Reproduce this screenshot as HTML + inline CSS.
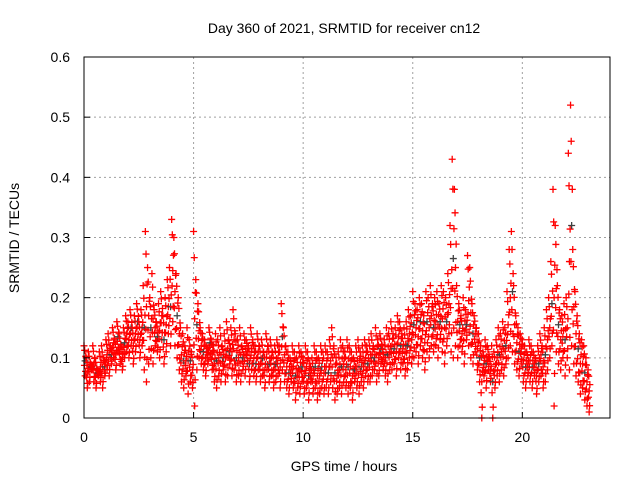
<!DOCTYPE html>
<html><head><meta charset="utf-8"><style>
body{margin:0;background:#fff;}
svg{display:block;font-family:"Liberation Sans",sans-serif;}
</style></head><body>
<svg id="chart" width="640" height="480">
<text x="344" y="33" font-size="14" text-anchor="middle">Day 360 of 2021, SRMTID for receiver cn12</text>
<text transform="translate(19,238) rotate(-90)" font-size="14" text-anchor="middle">SRMTID / TECUs</text>
<text x="344" y="471" font-size="14" text-anchor="middle">GPS time / hours</text>
<g id="grid"></g><g id="marks"></g><g id="axes"></g>
</svg>
<script>
const xTicks=[0,5,10,15,20];
const yTicks=[0,0.1,0.2,0.3,0.4,0.5,0.6];
const yTickLabels=["0","0.1","0.2","0.3","0.4","0.5","0.6"];
const stepHours=0.1;
const srmtidUpper=[.12,.10,.11,.09,.12,.10,.08,.11,.12,.10,
.13,.14,.12,.15,.13,.16,.14,.12,.15,.17,
.16,.18,.15,.17,.19,.16,.18,.22,.31,.25,
.20,.24,.18,.16,.19,.21,.17,.20,.23,.25,
.33,.30,.24,.20,.15,.14,.12,.15,.13,.11,
.31,.23,.19,.15,.14,.13,.12,.15,.13,.12,
.14,.13,.15,.12,.14,.16,.13,.15,.18,.14,
.13,.15,.12,.14,.13,.12,.15,.13,.12,.14,
.12,.13,.11,.14,.12,.13,.11,.12,.13,.12,
.19,.15,.12,.11,.10,.12,.11,.10,.12,.11,
.10,.12,.11,.09,.10,.12,.11,.10,.12,.11,
.12,.11,.13,.15,.12,.10,.11,.13,.12,.11,
.13,.12,.11,.10,.12,.13,.11,.12,.13,.12,
.13,.14,.12,.15,.13,.14,.12,.13,.15,.14,
.16,.14,.15,.17,.16,.14,.15,.16,.18,.17,
.21,.19,.18,.20,.19,.17,.21,.20,.22,.19,
.20,.21,.19,.22,.21,.20,.24,.32,.43,.38,
.22,.19,.17,.20,.18,.27,.25,.19,.17,.15,
.14,.12,.11,.13,.12,.10,.12,.11,.13,.15,
.14,.16,.15,.21,.28,.31,.22,.17,.15,.14,
.13,.12,.11,.13,.12,.11,.10,.12,.14,.12,
.15,.18,.20,.26,.38,.32,.22,.18,.17,.19,
.20,.44,.52,.28,.21,.17,.14,.13,.12,.10,
.08];
const srmtidLower=[.07,.05,.06,.08,.06,.05,.07,.06,.05,.07,
.08,.07,.09,.10,.08,.11,.09,.08,.10,.11,
.10,.12,.09,.11,.13,.10,.12,.08,.06,.09,
.10,.09,.12,.11,.10,.13,.09,.11,.14,.12,
.16,.12,.10,.08,.06,.05,.07,.04,.06,.05,
.02,.08,.10,.09,.08,.07,.09,.10,.08,.06,
.05,.07,.06,.08,.06,.07,.09,.07,.08,.06,
.07,.06,.08,.07,.09,.06,.08,.07,.06,.08,
.06,.07,.05,.08,.06,.07,.05,.06,.07,.05,
.08,.06,.05,.04,.06,.05,.03,.05,.04,.06,
.04,.05,.03,.06,.04,.05,.03,.04,.05,.04,
.05,.04,.06,.05,.03,.04,.05,.04,.06,.05,
.04,.05,.03,.06,.05,.04,.06,.05,.07,.06,
.06,.07,.08,.06,.07,.09,.08,.07,.06,.08,
.08,.09,.07,.10,.08,.09,.07,.08,.10,.09,
.10,.11,.09,.12,.10,.08,.11,.10,.12,.11,
.12,.10,.13,.11,.09,.12,.14,.11,.10,.12,
.10,.12,.11,.09,.13,.12,.10,.09,.11,.08,
.06,.00,.07,.05,.08,.06,.00,.05,.07,.06,
.08,.07,.09,.10,.12,.11,.09,.08,.07,.09,
.06,.05,.07,.06,.05,.07,.04,.06,.07,.05,
.06,.08,.10,.12,.02,.11,.09,.08,.10,.07,
.10,.08,.12,.09,.07,.06,.04,.05,.03,.02,
.01];
const NS="http://www.w3.org/2000/svg";
const L=84,R=610,T=57,B=418;
const xS=h=>L+h/24*(R-L);
const yS=v=>B-v/0.6*(B-T);
function mk(tag,attrs,parent){const e=document.createElementNS(NS,tag);for(const k in attrs)e.setAttribute(k,attrs[k]);parent.appendChild(e);return e;}
const grid=document.getElementById('grid'),axes=document.getElementById('axes'),marks=document.getElementById('marks');
xTicks.forEach(t=>{
 if(t>0){const g=mk('line',{x1:xS(t),x2:xS(t),y1:T,y2:B,stroke:'#a0a0a0','stroke-dasharray':'2,3'},grid);
 
 }
 const tk=mk('line',{x1:xS(t),x2:xS(t),y1:B,y2:B-6,stroke:'#000'},axes);
 
 
 const tx=mk('text',{x:xS(t),y:B+24,'font-size':14,'text-anchor':'middle'},axes);tx.textContent=t;
 
 
});
yTicks.forEach((t,i)=>{
 if(t>0&&t<0.6){const g=mk('line',{x1:L,x2:R,y1:yS(t),y2:yS(t),stroke:'#a0a0a0','stroke-dasharray':'2,3'},grid);
 
 }
 const tk=mk('line',{x1:L,x2:L+6,y1:yS(t),y2:yS(t),stroke:'#000'},axes);
 
 
 const tx=mk('text',{x:L-14,y:yS(t)+5,'font-size':14,'text-anchor':'end'},axes);tx.textContent=yTickLabels[i];
 
 
});
const border=mk('rect',{x:L,y:T,width:R-L,height:B-T,fill:'none',stroke:'#000'},axes);


function plus(h,v,color){
 const x=xS(h),y=yS(v);
 const p=mk('path',{d:`M${x-3.5},${y}h7M${x},${y-3.5}v7`,stroke:color,'stroke-width':1.3,fill:'none'},marks);
 
 
}
const fr=[0.15,0.35,0.5,0.65,0.85];
const dx=[0.07,0.02,0.05,0.08,0.03];
srmtidUpper.forEach((u,i)=>{
 const lo=srmtidLower[i],h=i*stepHours;
 fr.forEach((f,k)=>{plus(h+dx[k],lo+(u-lo)*f,(k==2&&i%3==0)?'#404040':'#ff0000');});
 plus(h+0.05,lo,'#ff0000');
 plus(h,u,'#ff0000');
});
</script>
</body></html>
